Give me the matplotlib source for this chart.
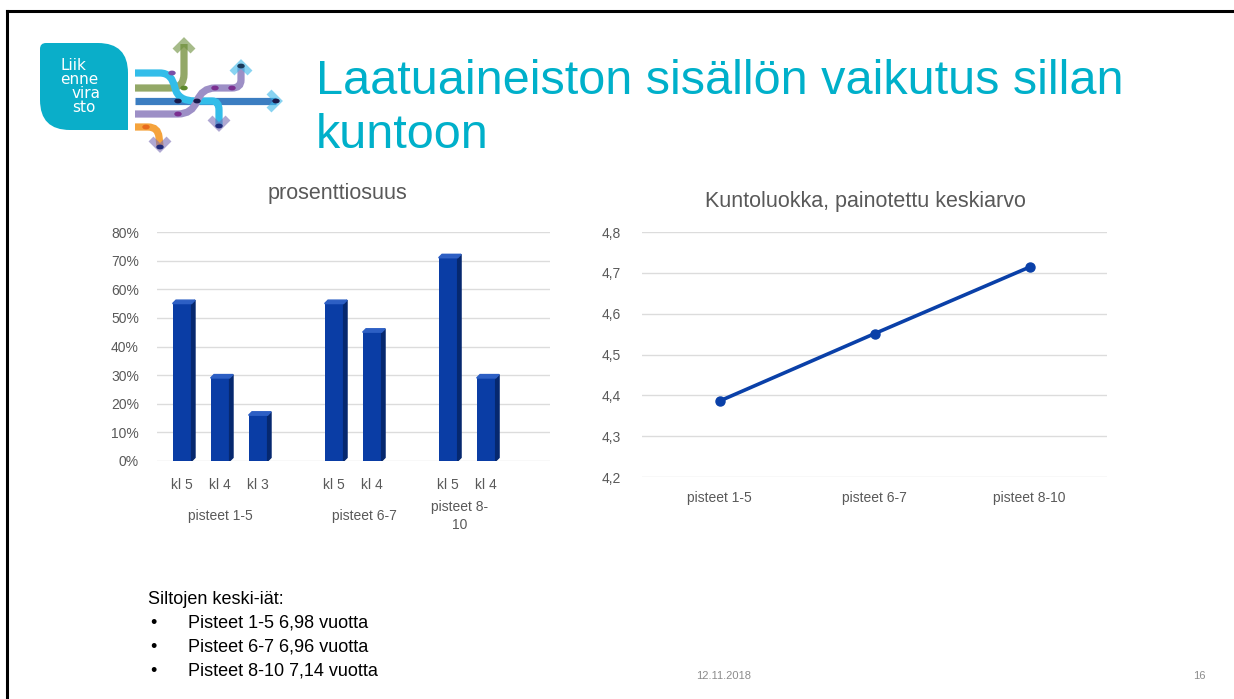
import numpy as np
import matplotlib.pyplot as plt
from matplotlib.path import Path
from matplotlib.patches import PathPatch
from matplotlib.lines import Line2D
import matplotlib.transforms as mtransforms

plt.rcParams['font.family'] = ['Liberation Sans', 'DejaVu Sans']

# bar chart data (share of bridges per condition class)
bar_labels = ['kl 5', 'kl 4', 'kl 3', 'kl 5', 'kl 4', 'kl 5', 'kl 4']
bar_slots = [0, 1, 2, 4, 5, 7, 8]
bar_values = [0.55, 0.29, 0.16, 0.55, 0.45, 0.71, 0.29]
group_labels = ['pisteet 1-5', 'pisteet 6-7', 'pisteet 8-\n10']
group_pos = [1, 4.8, 7.3]

# line chart data (weighted average condition class)
line_cats = ['pisteet 1-5', 'pisteet 6-7', 'pisteet 8-10']
line_values = [4.386, 4.551, 4.714]

ages_title = 'Siltojen keski-iät:'
ages = ['Pisteet 1-5 6,98 vuotta', 'Pisteet 6-7 6,96 vuotta', 'Pisteet 8-10 7,14 vuotta']

W, H = 1234, 699
fig = plt.figure(figsize=(W / 100, H / 100), dpi=100)
gray = '#595959'
grid_c = '#dcdcdc'
teal = '#00b0ca'


def px(x, y):
    return x / W, 1 - y / H


# slide frame (top and left edges)
fig.add_artist(Line2D([7 / W, 1], [1 - 11 / H] * 2, color='black', lw=2.2))
fig.add_artist(Line2D([7 / W] * 2, [0, 1 - 11 / H], color='black', lw=2.2))

# title
fig.text(*px(316, 94), 'Laatuaineiston sisällön vaikutus sillan', fontsize=35,
         color=teal, va='baseline', ha='left')
fig.text(*px(316, 148), 'kuntoon', fontsize=35, color=teal, va='baseline', ha='left')

# ---- logo ----
lx0, ly0, lx1, ly1 = 40, 43, 128, 130
verts = [px(lx0 + 6, ly0), px(lx1 - 30, ly0), px(lx1, ly0), px(lx1, ly0 + 30),
         px(lx1, ly1), px(lx0 + 30, ly1), px(lx0, ly1), px(lx0, ly1 - 30),
         px(lx0, ly0 + 6), px(lx0, ly0), px(lx0 + 6, ly0), px(lx0 + 6, ly0)]
codes = [Path.MOVETO, Path.LINETO, Path.CURVE3, Path.CURVE3, Path.LINETO,
         Path.LINETO, Path.CURVE3, Path.CURVE3, Path.LINETO, Path.CURVE3, Path.CURVE3,
         Path.CLOSEPOLY]
fig.add_artist(PathPatch(Path(verts, codes), facecolor='#0aaec9', edgecolor='none',
                         transform=fig.transFigure))
for txt, x, y in [('Liik', 60, 66), ('enne', 60, 80), ('vira', 72, 94), ('sto', 72, 107)]:
    fig.text(*px(x, y), txt, color='white', fontsize=11, va='center', ha='left',
             family=['DejaVu Sans'], linespacing=1.0)


def stroke(points, kinds, color, lw=5.2, alpha=1.0):
    v = [px(*p) for p in points]
    c = [Path.MOVETO] + kinds
    fig.add_artist(PathPatch(Path(v, c), facecolor='none', edgecolor=color, lw=lw,
                             alpha=alpha, capstyle='butt', transform=fig.transFigure))


def chevron(x, y, direction, color):
    s = 9
    if direction == 'up':
        pts = [(x - s, y + s), (x, y), (x + s, y + s)]
    elif direction == 'down':
        pts = [(x - s, y - s), (x, y), (x + s, y - s)]
    else:
        pts = [(x - s, y - s), (x, y), (x - s, y + s)]
    stroke(pts, [Path.LINETO, Path.LINETO], color, lw=5, alpha=0.6)


L, C = Path.LINETO, Path.CURVE3
stroke([(135, 88), (170, 88), (184, 88), (184, 74), (184, 44)], [L, C, C, L], '#93a867')
stroke([(135, 101), (276, 101)], [L], '#3b7dc1')
stroke([(135, 73), (160, 73), (172, 73), (175, 88), (178, 101), (195, 101), (212, 101),
        (219, 101), (219, 110), (219, 126)], [L, C, C, C, C, L, C, C, L], '#33bde9')
stroke([(135, 114), (178, 114), (192, 114), (197, 101), (202, 88), (215, 88),
        (232, 88), (241, 88), (241, 80), (241, 66)], [L, C, C, C, C, L, C, C, L], '#9d8fc6')
stroke([(135, 127), (148, 127), (158, 127), (159, 137), (160, 146)], [L, C, C, L], '#f5a33c')
chevron(184, 42, 'up', '#6b8f3a')
chevron(278, 101, 'right', '#39b7e8')
chevron(219, 127, 'down', '#7a6fb5')
chevron(241, 64, 'up', '#39b7e8')
chevron(160, 148, 'down', '#7a6fb5')
for x, y, c in [(184, 88, '#5e8a2e'), (172, 73, '#7b4fa6'), (178, 101, '#1a1a4a'),
                (197, 101, '#1a1a4a'), (178, 114, '#7b2f90'), (215, 88, '#7b2f90'),
                (232, 88, '#7b2f90'), (146, 127, '#e86a1c'), (219, 126, '#1f2a7a'),
                (241, 66, '#1a3a5a'), (276, 101, '#1a1a4a'), (160, 147, '#1f2a7a')]:
    fig.add_artist(plt.Circle(px(x, y), 3 / W, color=c, transform=fig.transFigure))

# ---- bar chart ----
ax1 = fig.add_axes([157 / W, 1 - 461 / H, 393 / W, 229 / H])
w = 0.5
dx, dy = 0.09, 0.012
ax1.bar(bar_slots, bar_values, width=w, color='#0a3da5', zorder=3)
for x, h in zip(bar_slots, bar_values):
    xr = x + w / 2
    ax1.fill([xr, xr + dx, xr + dx, xr], [0, dy, h + dy, h], color='#06286f', zorder=3)
    ax1.fill([x - w / 2, x - w / 2 + dx, xr + dx, xr], [h, h + dy, h + dy, h],
             color='#2d5fc4', zorder=3)
ax1.set_xlim(-0.66, 9.68)
ax1.set_ylim(0, 0.8)
ax1.set_yticks(np.arange(0, 0.81, 0.1))
ax1.set_yticklabels([f'{int(round(v * 100))}%' for v in np.arange(0, 0.81, 0.1)])
ax1.set_xticks(bar_slots)
ax1.set_xticklabels(bar_labels)
ax1.grid(axis='y', color=grid_c, lw=1, zorder=0)
ax1.tick_params(axis='both', length=0, labelsize=10, labelcolor=gray)
ax1.tick_params(axis='y', pad=13)
ax1.tick_params(axis='x', pad=12)
for s in ax1.spines.values():
    s.set_visible(False)
trans = mtransforms.blended_transform_factory(ax1.transData, ax1.transAxes)
for g, gx in zip(group_labels, group_pos):
    ax1.text(gx, -55 / 229, g, transform=trans, ha='center', va='center',
             fontsize=10, color=gray, linespacing=1.35)
fig.text(*px(337, 194), 'prosenttiosuus', ha='center', va='center', fontsize=15.5,
         color=gray)

# ---- line chart ----
ax2 = fig.add_axes([642 / W, 1 - 477 / H, 465 / W, 245 / H])
xs = np.arange(len(line_cats))
ax2.plot(xs, line_values, color='#0a40a8', lw=2.6, marker='o', markersize=6.5, zorder=3)
ax2.set_xlim(-0.5, 2.5)
ax2.set_ylim(4.2, 4.8)
yt = np.round(np.arange(4.2, 4.81, 0.1), 1)
ax2.set_yticks(yt)
ax2.set_yticklabels([f'{v:.1f}'.replace('.', ',') for v in yt])
ax2.set_xticks(xs)
ax2.set_xticklabels(line_cats)
ax2.grid(axis='y', color=grid_c, lw=1, zorder=0)
ax2.tick_params(axis='both', length=0, labelsize=10, labelcolor=gray)
ax2.tick_params(axis='y', pad=15)
ax2.tick_params(axis='x', pad=10)
for s in ax2.spines.values():
    s.set_visible(False)
fig.text(*px(865, 202), 'Kuntoluokka, painotettu keskiarvo', ha='center', va='center',
         fontsize=15.5, color=gray)

# ---- bottom text ----
fig.text(*px(148, 599), ages_title, fontsize=13, color='black', va='center')
for i, t in enumerate(ages):
    y = 623 + i * 24
    fig.text(*px(150, y), '•', fontsize=13, color='black', va='center')
    fig.text(*px(188, y), t, fontsize=13, color='black', va='center')

fig.text(*px(724, 676), '12.11.2018', fontsize=8, color='#8c8c8c', ha='center', va='center')
fig.text(*px(1199, 676), '16', fontsize=8, color='#8c8c8c', ha='center', va='center')

fig.savefig('out.png', dpi=100, facecolor='white')
